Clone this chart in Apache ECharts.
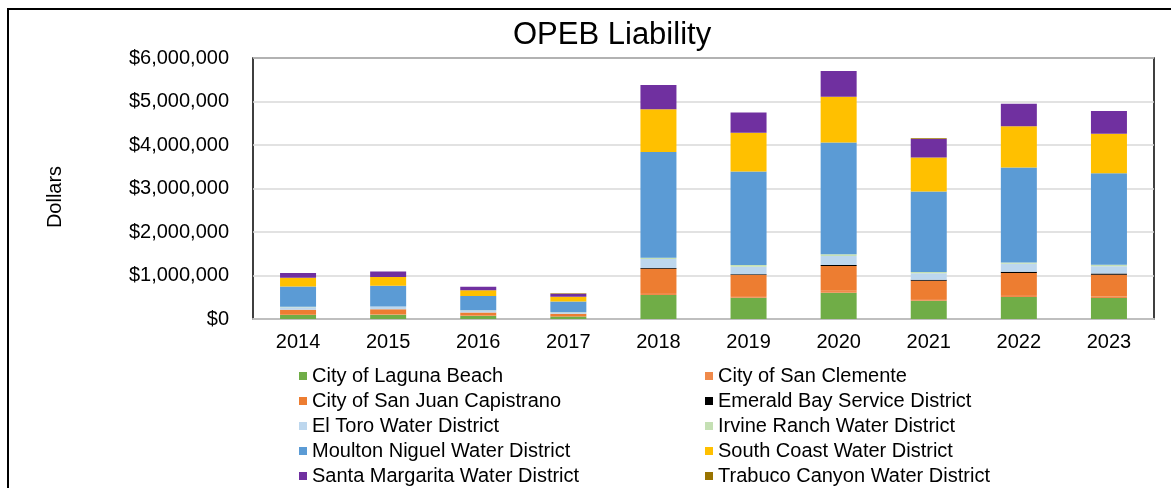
<!DOCTYPE html>
<html>
<head>
<meta charset="utf-8">
<script src="https://cdn.jsdelivr.net/npm/echarts@6/dist/echarts.min.js"></script>
<style>
  html, body { margin: 0; padding: 0; background: #fff; }
  #main { width: 1171px; height: 488px; }
</style>
</head>
<body>
<div id="main"></div>
<script>
// values, dollars
var years = ['2014', '2015', '2016', '2017', '2018', '2019', '2020', '2021', '2022', '2023'];
var lagunaBeach    = [90000, 100000, 70000, 55000, 550000, 490000, 605000, 420000, 505000, 480000];
var sanClemente    = [10000, 10000, 10000, 5000, 45000, 40000, 45000, 40000, 45000, 35000];
var sanJuanCap     = [115000, 115000, 70000, 60000, 560000, 480000, 570000, 420000, 505000, 500000];
var emeraldBay     = [0, 0, 0, 0, 15000, 20000, 20000, 20000, 30000, 30000];
var elToro         = [55000, 60000, 45000, 30000, 210000, 170000, 210000, 150000, 185000, 170000];
var irvineRanch    = [10000, 5000, 5000, 5000, 30000, 40000, 40000, 30000, 30000, 35000];
var moultonNiguel  = [470000, 475000, 330000, 245000, 2430000, 2150000, 2570000, 1850000, 2180000, 2100000];
var southCoast     = [200000, 200000, 130000, 110000, 980000, 890000, 1050000, 780000, 950000, 910000];
var santaMargarita = [110000, 125000, 80000, 70000, 560000, 470000, 590000, 430000, 520000, 520000];
var trabucoCanyon  = [0, 0, 0, 10000, 0, 0, 0, 15000, 0, 0];

var names = [
  'City of Laguna Beach', 'City of San Clemente', 'City of San Juan Capistrano',
  'Emerald Bay Service District', 'El Toro Water District', 'Irvine Ranch Water District',
  'Moulton Niguel Water District', 'South Coast Water District',
  'Santa Margarita Water District', 'Trabuco Canyon Water District'
];
var values = [lagunaBeach, sanClemente, sanJuanCap, emeraldBay, elToro, irvineRanch,
  moultonNiguel, southCoast, santaMargarita, trabucoCanyon];
var colors = ['#70AD47', '#F08A4B', '#ED7D31', '#000000', '#BDD7EE', '#C5E0B4',
  '#5B9BD5', '#FFC000', '#7030A0', '#997300'];

var font = 'Liberation Sans';

var series = names.map(function (n, i) {
  return {
    name: n,
    type: 'bar',
    stack: 'opeb',
    barWidth: 36,
    data: values[i],
    itemStyle: { color: colors[i] }
  };
});

// two columns of legend, like the excel layout
function legendBox(left, data) {
  return {
    orient: 'vertical',
    left: left,
    top: 366,
    padding: 0,
    itemWidth: 8,
    itemHeight: 8,
    itemGap: 5,
    icon: 'rect',
    selectedMode: false,
    data: data,
    textStyle: { fontFamily: font, fontSize: 20, color: '#000', lineHeight: 20 }
  };
}

var myChart = echarts.init(document.getElementById('main'));
myChart.setOption({
  animation: false,
  title: {
    text: 'OPEB Liability',
    left: 513,
    top: 20,
    padding: 0,
    textStyle: { fontFamily: font, fontSize: 31, fontWeight: 'normal', color: '#000' }
  },
  legend: [
    legendBox(299, [names[0], names[2], names[4], names[6], names[8]]),
    legendBox(705, [names[1], names[3], names[5], names[7], names[9]])
  ],
  grid: {
    left: 253, top: 58, right: 17, bottom: 169,
    show: true, borderColor: '#000', borderWidth: 1.5
  },
  xAxis: {
    type: 'category',
    data: years,
    axisTick: { show: false },
    axisLine: { lineStyle: { color: '#bfbfbf', width: 2 } },
    axisLabel: { fontFamily: font, fontSize: 20, color: '#000', margin: 13 }
  },
  yAxis: {
    type: 'value',
    min: 0,
    max: 6000000,
    interval: 1000000,
    axisLine: { show: false },
    axisTick: { show: false },
    splitLine: { lineStyle: { color: '#d9d9d9', width: 1.5 } },
    axisLabel: {
      fontFamily: font, fontSize: 20, color: '#000', margin: 24,
      formatter: function (v) { return '$' + v.toLocaleString('en-US'); }
    }
  },
  graphic: [
    {
      type: 'rect',
      shape: { x: 8, y: 9, width: 1200, height: 520 },
      style: { fill: null, stroke: '#000', lineWidth: 2 },
      silent: true
    },
    {
      type: 'text',
      x: 55, y: 197,
      rotation: Math.PI / 2,
      style: {
        text: 'Dollars', fontFamily: font, fontSize: 20, fill: '#000',
        textAlign: 'center', textVerticalAlign: 'middle'
      }
    }
  ],
  series: series
});
</script>
</body>
</html>
